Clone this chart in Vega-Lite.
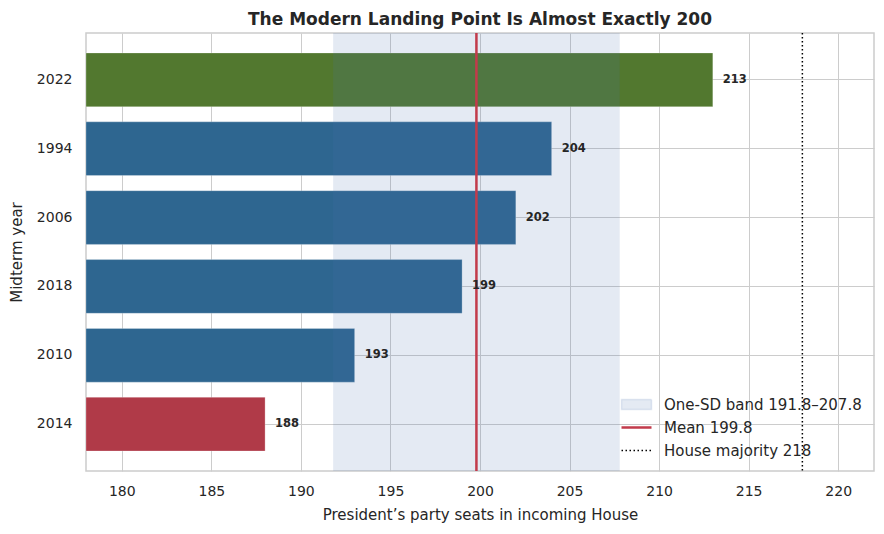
{
  "$schema": "https://vega.github.io/schema/vega-lite/v6.json",
  "width": 788,
  "height": 438,
  "autosize": {"type": "none"},
  "padding": {"left": 86, "top": 33, "right": 10, "bottom": 63},
  "background": "white",
  "title": {
    "text": "The Modern Landing Point Is Almost Exactly 200",
    "fontSize": 17,
    "fontWeight": "bold",
    "color": "#262626",
    "anchor": "middle",
    "offset": 3
  },
  "config": {
    "font": "DejaVu Sans",
    "view": {"stroke": "#cccccc", "strokeWidth": 1.5},
    "axis": {
      "labelColor": "#262626",
      "titleColor": "#262626",
      "labelFontSize": 14,
      "titleFontSize": 15,
      "titleFontWeight": "normal",
      "gridColor": "#cccccc",
      "gridWidth": 1,
      "ticks": false,
      "domain": false
    }
  },
  "datasets": {
    "midterms": [
      {"year": "2022", "seats": 213, "group": "best"},
      {"year": "1994", "seats": 204, "group": "other"},
      {"year": "2006", "seats": 202, "group": "other"},
      {"year": "2018", "seats": 199, "group": "other"},
      {"year": "2010", "seats": 193, "group": "other"},
      {"year": "2014", "seats": 188, "group": "worst"}
    ],
    "band": [
      {"series": "One-SD band 191.8–207.8", "lo": 191.8, "hi": 207.8}
    ],
    "refs": [
      {"series": "Mean 199.8", "value": 199.8},
      {"series": "House majority 218", "value": 218}
    ]
  },
  "layer": [
    {
      "data": {"name": "midterms"},
      "mark": {"type": "bar", "stroke": "white", "strokeOpacity": 0.25, "strokeWidth": 1},
      "encoding": {
        "y": {
          "field": "year",
          "type": "nominal",
          "sort": ["2022", "1994", "2006", "2018", "2010", "2014"],
          "title": "Midterm year",
          "scale": {"paddingInner": 0.22, "paddingOuter": 0.29},
          "axis": {"grid": true, "labelPadding": 14, "titlePadding": 12, "bandPosition": 0.5}
        },
        "x": {
          "field": "seats",
          "type": "quantitative",
          "title": "President’s party seats in incoming House",
          "scale": {"domain": [178, 222], "zero": false, "nice": false},
          "axis": {"values": [180, 185, 190, 195, 200, 205, 210, 215, 220], "labelPadding": 13, "titlePadding": 9}
        },
        "x2": {"datum": 178},
        "fill": {
          "field": "group",
          "type": "nominal",
          "scale": {"domain": ["best", "other", "worst"], "range": ["#52782f", "#2e6690", "#b03a48"]},
          "legend": null
        }
      }
    },
    {
      "data": {"name": "band"},
      "mark": {"type": "rect"},
      "encoding": {
        "x": {"field": "lo", "type": "quantitative"},
        "x2": {"field": "hi"},
        "color": {
          "field": "series",
          "type": "nominal",
          "scale": {
            "domain": ["One-SD band 191.8–207.8", "Mean 199.8", "House majority 218"],
            "range": ["rgba(76,114,176,0.15)", "#c23b4b", "#000000"]
          },
          "legend": {
            "title": null,
            "orient": "bottom-right",
            "offset": 12,
            "labelFontSize": 15,
            "labelColor": "#262626",
            "labelLimit": 400,
            "labelOffset": 20,
            "rowPadding": 7,
            "symbolSize": 900,
            "symbolType": "stroke",
            "encode": {
              "symbols": {
                "update": {
                  "shape": {"signal": "datum.value == 'One-SD band 191.8–207.8' ? 'M-1,-0.33H1V0.33H-1Z' : 'stroke'"},
                  "fill": {"signal": "datum.value == 'One-SD band 191.8–207.8' ? 'rgba(76,114,176,0.18)' : 'transparent'"},
                  "opacity": {"value": 1},
                  "strokeOpacity": {"value": 1},
                  "stroke": {"signal": "datum.value == 'One-SD band 191.8–207.8' ? 'transparent' : (datum.value == 'Mean 199.8' ? '#c23b4b' : '#000000')"},
                  "strokeWidth": {"signal": "datum.value == 'Mean 199.8' ? 2.5 : 1.5"},
                  "strokeDash": {"signal": "datum.value == 'House majority 218' ? [1.5, 2.5] : [1, 0]"}
                }
              }
            }
          }
        }
      }
    },
    {
      "data": {"name": "refs"},
      "mark": {"type": "rule"},
      "encoding": {
        "x": {"field": "value", "type": "quantitative"},
        "color": {"field": "series", "type": "nominal"},
        "strokeWidth": {
          "field": "series",
          "type": "nominal",
          "scale": {"domain": ["Mean 199.8", "House majority 218"], "range": [2.5, 1.5]},
          "legend": null
        },
        "strokeDash": {
          "field": "series",
          "type": "nominal",
          "scale": {"domain": ["Mean 199.8", "House majority 218"], "range": [[1, 0], [1.5, 2.5]]},
          "legend": null
        }
      }
    },
    {
      "data": {"name": "midterms"},
      "mark": {"type": "text", "align": "left", "baseline": "middle", "dx": 10, "fontSize": 11.5, "fontWeight": "bold", "color": "#262626"},
      "encoding": {
        "y": {"field": "year", "type": "nominal", "sort": ["2022", "1994", "2006", "2018", "2010", "2014"]},
        "x": {"field": "seats", "type": "quantitative"},
        "text": {"field": "seats", "type": "quantitative"}
      }
    }
  ]
}
